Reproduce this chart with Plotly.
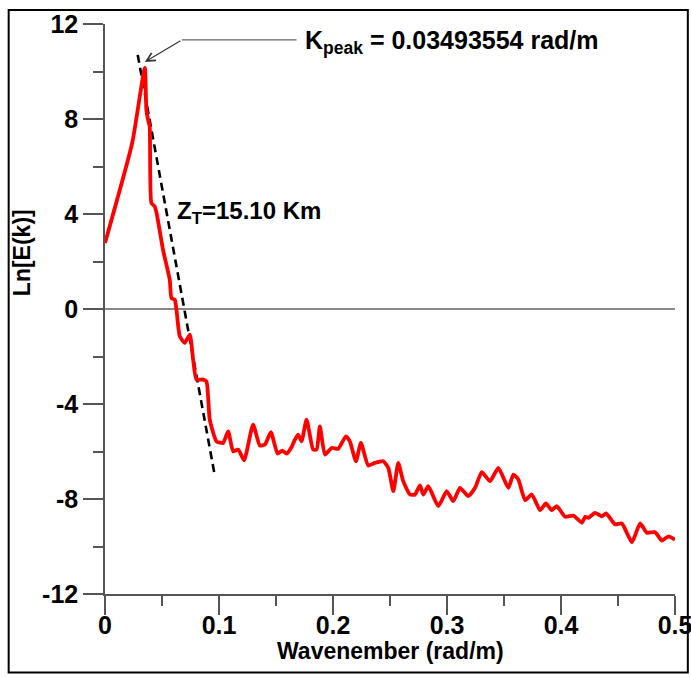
import plotly.graph_objects as go

# Spectrum (wavenumber in rad/m, ln of energy)
wavenumber = [0.0000, 0.0239, 0.0349, 0.0363, 0.0378, 0.0392, 0.0407, 0.0436, 0.0454,
              0.0509, 0.0568, 0.0583, 0.0612, 0.0627, 0.0656, 0.0700, 0.0744, 0.0773,
              0.0802, 0.0860, 0.0890, 0.0919, 0.0978, 0.1036, 0.1080, 0.1124, 0.1168,
              0.1220, 0.1299, 0.1358, 0.1402, 0.1455, 0.1514, 0.1554, 0.1593, 0.1637,
              0.1666, 0.1694, 0.1724, 0.1768, 0.1826, 0.1856, 0.1885, 0.1929, 0.1988,
              0.2046, 0.2113, 0.2148, 0.2201, 0.2245, 0.2309, 0.2368, 0.2441, 0.2485,
              0.2529, 0.2572, 0.2616, 0.2675, 0.2719, 0.2763, 0.2792, 0.2836, 0.2924,
              0.2997, 0.3055, 0.3114, 0.3187, 0.3246, 0.3305, 0.3378, 0.3450, 0.3538,
              0.3582, 0.3626, 0.3685, 0.3744, 0.3816, 0.3867, 0.3919, 0.3963, 0.4036,
              0.4109, 0.4183, 0.4212, 0.4241, 0.4299, 0.4358, 0.4396, 0.4475, 0.4534,
              0.4622, 0.4694, 0.4753, 0.4826, 0.4885, 0.4943, 0.5000]
ln_energy = [2.78, 7.00, 10.15, 8.38, 7.96, 7.68, 4.46, 4.32, 4.00,
             2.49, 1.23, 0.46, 0.39, -0.03, -1.15, -1.43, -1.08, -2.13,
             -2.97, -2.97, -3.05, -4.66, -5.57, -5.64, -5.15, -5.99, -5.92,
             -6.37, -4.87, -5.75, -5.71, -5.19, -6.09, -5.96, -6.09, -5.81,
             -5.50, -5.29, -5.57, -4.66, -5.92, -5.92, -4.94, -6.13, -5.85,
             -5.89, -5.36, -5.57, -6.41, -5.64, -6.59, -6.48, -6.41, -6.69,
             -7.67, -6.48, -7.25, -7.81, -7.81, -7.43, -7.81, -7.46, -8.30,
             -7.67, -8.09, -7.53, -7.88, -7.53, -6.87, -7.25, -6.69, -7.53,
             -6.97, -7.18, -8.05, -7.81, -8.47, -8.19, -8.47, -8.30, -8.75,
             -8.70, -9.00, -8.75, -8.79, -8.58, -8.73, -8.61, -9.07, -9.03,
             -9.82, -9.03, -9.42, -9.40, -9.75, -9.57, -9.71]

# Linear fit segment (depth estimate)
fit_x = [0.0287, 0.0963]
fit_y = [10.70, -7.01]

x_ticks = [0, 0.1, 0.2, 0.3, 0.4, 0.5]
x_tick_labels = ["0", "0.1", "0.2", "0.3", "0.4", "0.5"]
y_ticks = [-12, -8, -4, 0, 4, 8, 12]
y_tick_labels = ["-12", "-8", "-4", "0", "4", "8", "12"]

k_peak = 0.03493554
peak_label = "K<sub>peak</sub> = 0.03493554 rad/m"
depth_label = "Z<sub>T</sub>=15.10 Km"
x_title = "Wavenember (rad/m)"
y_title = "Ln[E(k)]"

FONT = "Liberation Sans, Arial, sans-serif"
AX = "#555555"

fig = go.Figure()
fig.add_trace(go.Scatter(x=fit_x, y=fit_y, mode="lines",
                         line=dict(color="black", width=2.6, dash="8px,5px"),
                         showlegend=False, hoverinfo="skip"))
fig.add_trace(go.Scatter(x=wavenumber, y=ln_energy, mode="lines",
                         line=dict(color="#ff0000", width=3.8, shape="spline", smoothing=0.5),
                         showlegend=False))

# horizontal leader of the peak label
fig.add_shape(type="line", xref="x", yref="y", x0=0.0675, y0=11.33, x1=0.168, y1=11.33,
              line=dict(color="#666666", width=1.2))
# arrow to the peak
fig.add_annotation(x=k_peak, y=10.4, ax=0.0675, ay=11.33, axref="x", ayref="y",
                   xref="x", yref="y", text="", showarrow=True,
                   arrowhead=5, arrowsize=1.4, arrowwidth=1.2, arrowcolor="#333333")
fig.add_annotation(x=0.1736, y=11.25, xref="x", yref="y", text=peak_label,
                   showarrow=False, xanchor="left", yanchor="middle",
                   font=dict(family=FONT, size=25, color="black", weight="bold"))
fig.add_annotation(x=0.0612, y=4.05, xref="x", yref="y", text=depth_label,
                   showarrow=False, xanchor="left", yanchor="middle",
                   font=dict(family=FONT, size=24, color="black", weight="bold"))
# axis titles
fig.add_annotation(x=-0.1456, y=0.598, xref="paper", yref="paper", text=y_title,
                   showarrow=False, textangle=-90, xanchor="center", yanchor="middle",
                   font=dict(family=FONT, size=23, color="black", weight="bold"))
fig.add_annotation(x=0.5, y=-0.1, xref="paper", yref="paper", text=x_title,
                   showarrow=False, xanchor="center", yanchor="middle",
                   font=dict(family=FONT, size=23, color="black", weight="bold"))

# outer frame
fig.add_shape(type="rect", xref="paper", yref="paper", x0=-0.169, x1=1.0225,
              y0=-0.1376, y1=1.0247, line=dict(color="black", width=2), layer="above")

fig.update_layout(
    width=691, height=678,
    margin=dict(l=105, r=16, t=24, b=84),
    paper_bgcolor="white", plot_bgcolor="white",
    font=dict(family=FONT, color="black"),
    xaxis=dict(range=[0, 0.5], tickmode="array", tickvals=x_ticks, ticktext=x_tick_labels,
               automargin=False,
               ticks="outside", ticklen=19, tickwidth=1.5, tickcolor=AX,
               showline=True, linecolor=AX, linewidth=1.5, showgrid=False, zeroline=False,
               minor=dict(dtick=0.05, ticks="outside", ticklen=10, tickwidth=1.5, tickcolor=AX),
               ticklabeloverflow="allow", ticklabelstandoff=-11,
               tickfont=dict(family=FONT, size=25, color="black", weight="bold")),
    yaxis=dict(range=[-12, 12], tickmode="array", tickvals=y_ticks, ticktext=y_tick_labels,
               automargin=False,
               ticks="outside", ticklen=20, tickwidth=1.5, tickcolor=AX,
               showline=True, linecolor=AX, linewidth=1.5, showgrid=False,
               zeroline=True, zerolinecolor="#888888", zerolinewidth=1.5,
               minor=dict(dtick=2, ticks="outside", ticklen=10, tickwidth=1.5, tickcolor=AX),
               ticklabeloverflow="allow",
               tickfont=dict(family=FONT, size=25, color="black", weight="bold")),
)

fig.write_html("out.html", config={"displayModeBar": False},
               post_script="document.body.style.margin='0';document.body.style.overflow='hidden';")
